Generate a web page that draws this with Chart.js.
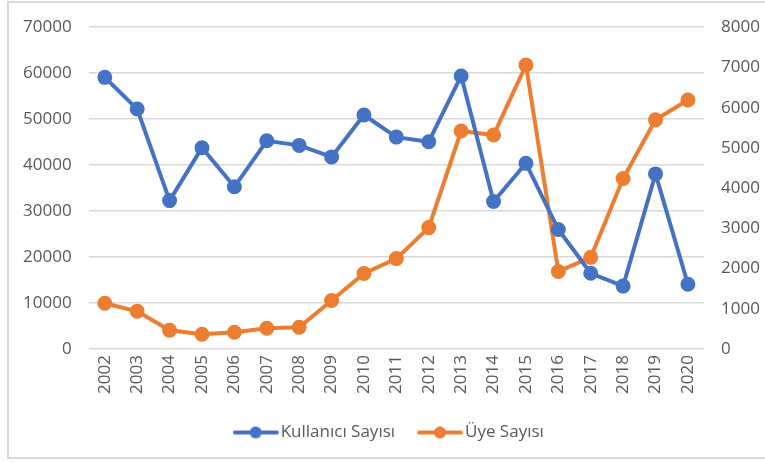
<!DOCTYPE html>
<html lang="tr">
<head>
<meta charset="UTF-8">
<title>Kullanıcı ve Üye Sayısı</title>
<script src="https://cdn.jsdelivr.net/npm/chart.js"></script>
<style>
  html, body { margin: 0; padding: 0; background: #fff; overflow: hidden; }
  .frame { position: absolute; left: 7px; top: 1px; width: 770px; height: 458px;
           border: 2px solid #d9d9d9; border-right: none; box-sizing: border-box; }
  #chart { position: absolute; left: 0; top: 0; }
</style>
</head>
<body>
<div class="frame"></div>
<canvas id="chart" width="765" height="463"></canvas>
<script>
// yillar ve seriler
const yillar = ['2002','2003','2004','2005','2006','2007','2008','2009','2010','2011',
                '2012','2013','2014','2015','2016','2017','2018','2019','2020'];
const kullaniciSayisi = [59100, 52200, 32300, 43800, 35300, 45300, 44300, 41800, 50900, 46100,
                         45100, 59400, 32100, 40400, 26000, 16500, 13700, 38100, 14100];
const uyeSayisi = [1140, 940, 470, 370, 420, 520, 545, 1210, 1880, 2250,
                   3020, 5420, 5320, 7060, 1930, 2280, 4240, 5700, 6190];

const mavi = '#4472C4';
const turuncu = '#ED7D31';
const yaziRengi = '#595959';
const fontAdi = "'Open Sans', sans-serif";

// legend icin cizgi + nokta ikonu
function legendIkon(renk) {
    const c = document.createElement('canvas');
    c.width = 46; c.height = 14;
    const g = c.getContext('2d');
    g.strokeStyle = renk; g.lineWidth = 4; g.lineCap = 'round';
    g.beginPath(); g.moveTo(2, 7); g.lineTo(44, 7); g.stroke();
    g.fillStyle = renk;
    g.beginPath(); g.arc(23, 7, 6, 0, Math.PI * 2); g.fill();
    return c;
}

const ctx = document.getElementById('chart').getContext('2d');
new Chart(ctx, {
    type: 'line',
    data: {
        labels: yillar,
        datasets: [
            {
                label: 'Kullanıcı Sayısı',
                data: kullaniciSayisi,
                borderColor: mavi,
                backgroundColor: mavi,
                borderWidth: 4,
                pointRadius: 5.5,
                pointHoverRadius: 5.5,
                yAxisID: 'y'
            },
            {
                label: 'Üye Sayısı',
                data: uyeSayisi,
                borderColor: turuncu,
                backgroundColor: turuncu,
                borderWidth: 4,
                pointRadius: 5.5,
                pointHoverRadius: 5.5,
                yAxisID: 'y1'
            }
        ]
    },
    options: {
        responsive: false,
        animation: false,
        layout: { padding: { left: 6, right: -12, top: 14, bottom: 12 } },
        plugins: {
            tooltip: { enabled: false },
            legend: {
                position: 'bottom',
                labels: {
                    color: yaziRengi,
                    font: { family: fontAdi, size: 17 },
                    usePointStyle: true,
                    pointStyleWidth: 33,
                    boxHeight: 12,
                    padding: 24,
                    generateLabels(chart) {
                        return chart.data.datasets.map((ds, i) => ({
                            // ilk etikete biraz bosluk: ogeler arasi aralik
                            text: i === 0 ? ds.label + ' ' : ds.label,
                            fillStyle: ds.borderColor,
                            strokeStyle: ds.borderColor,
                            fontColor: yaziRengi,
                            pointStyle: legendIkon(ds.borderColor),
                            lineWidth: 0,
                            hidden: false,
                            datasetIndex: i
                        }));
                    }
                }
            }
        },
        scales: {
            x: {
                offset: true,
                grid: { display: false, drawTicks: false },
                border: { display: false },
                ticks: {
                    color: yaziRengi,
                    font: { family: fontAdi, size: 17 },
                    maxRotation: 90,
                    minRotation: 90,
                    padding: 6
                }
            },
            y: {
                position: 'left',
                min: 0,
                max: 70000,
                grid: { color: '#d9d9d9', lineWidth: 1.5, drawTicks: false },
                border: { display: false },
                ticks: {
                    stepSize: 10000,
                    color: yaziRengi,
                    font: { family: fontAdi, size: 17 },
                    padding: 17,
                    callback: v => String(v)
                }
            },
            y1: {
                position: 'right',
                min: 0,
                max: 8000,
                grid: { display: false, drawTicks: false },
                border: { display: false },
                ticks: {
                    stepSize: 1000,
                    color: yaziRengi,
                    font: { family: fontAdi, size: 17 },
                    padding: 17,
                    callback: v => String(v)
                }
            }
        }
    }
});
</script>
</body>
</html>
